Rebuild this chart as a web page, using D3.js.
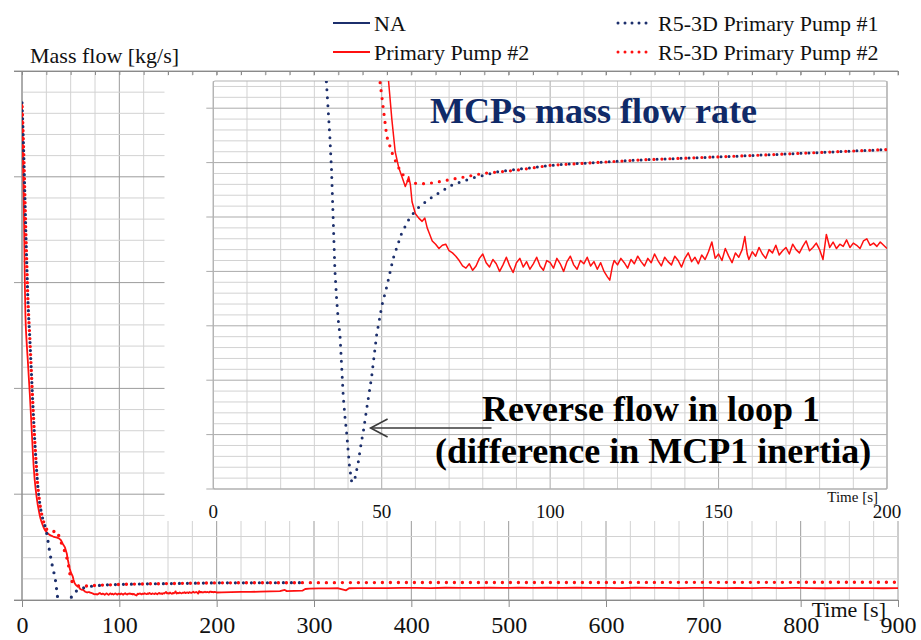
<!DOCTYPE html>
<html>
<head>
<meta charset="utf-8">
<script src="https://cdn.jsdelivr.net/npm/d3@7"></script>
<style>
  body { margin: 0; background: #fff; }
  svg { display: block; }
  text { font-family: "Liberation Serif", "Times New Roman", serif; }
</style>
</head>
<body>
<svg id="chart" width="921" height="640"></svg>
<script>
// ---- Data: mass flow [kg/s] against time [s] ----
const seriesNames = ["NA", "Primary Pump #2", "R5-3D Primary Pump #1", "R5-3D Primary Pump #2"];

// NA has no recorded points
const naFlow = [];

// Primary Pump #2 (measured)
const primaryPump2 = [
  [0,4695],[0.5,4450],[1,4200],[1.5,3930],[2,3650],[2.5,3300],[3,2950],[3.5,2700],[4,2560],[5,2400],
  [6,2260],[7,2100],[8,1950],[9,1780],[10,1600],[11,1420],[12,1260],[13,1140],[14,1050],[15,975],
  [16,910],[17,860],[18,810],[19,770],[20,740],[21,715],[22,690],[23,670],[24,655],[26,635],
  [28,618],[30,608],[32,600],[34,594],[36,590],[38,583],[40,565],[42,530],[44,500],[46,440],
  [47,385],[48,340],[49,300],[50,265],[51,245],[52,226],[53,190],[54,160],[55,146],[56,137],
  [57,128],[57.5,132],[58,137],[58.5,130],[59,114],[60,103],[61,99],[62,96],[62.8,99],[63.5,90],
  [64,86],[65,78],[66,75],[67,71],[68,74],[69,75],[70,69],[71,67],[72,64],[73,60],[74,55],
  [75,53],[76,57],[77,51],[78,55],[79,62],[80,66],[81,58],[82,54],[83,61],[84,57],[85,50],
  [86,56],[87,63],[88,55],[89,49],[90,58],[91,62],[92,54],[93,59],[94,52],[95,57],[96,63],
  [97,55],[98,51],[99,60],[100,58],[101,53],[102,62],[103,57],[104,50],[105,59],[106,64],[107,56],
  [108,52],[109,60],[110,57],[111,63],[112,55],[113,59],[114,52],[115,58],[116,50],[117,45],
  [117.7,42],[118.5,55],[119,60],[120,56],[121,62],[122,58],[123,53],[124,61],[125,57],[126,64],
  [127,59],[128,55],[129,62],[130,58],[131,66],[132,60],[133,55],[134,63],[135,59],[136,56],
  [137,64],[138,60],[139,54],[140,62],[141,67],[142,59],[143,63],[144,57],[145,65],[146,61],
  [147,68],[148,77],[149,62],[150,66],[151,60],[152,71],[153,64],[154,58],[155,67],[156,63],
  [157,70],[157.8,82],[158.5,66],[159,61],[160,68],[161,64],[162,72],[163,66],[164,62],[165,70],
  [166,67],[167,74],[168,65],[169,69],[170,72],[171,66],[172,75],[173,70],[174,67],[175,73],
  [176,78],[177,69],[178,72],[179,76],[180,70],[181,61],[182,84],[183,72],[184,77],[185,71],
  [186,75],[187,73],[188,79],[189,72],[190,76],[191,74],[192,71],[193,78],[194,80],[195,74],
  [196,76],[197,73],[198,77],[199,74],[200,71],
  [205,72],[215,74],[225,76],[235,77],[245,79],[255,81],[265,83],[270,95],[272,84],[280,86],
  [288,88],[291,104],[295,108],[305,109],[315,110],[325,111],[333,92],[336,111],[345,112],[360,113],
  [375,112],[390,114],[405,115],[420,113],[435,116],[450,114],[465,115],[480,117],[495,115],[510,116],
  [525,114],[540,117],[555,115],[570,116],[585,114],[600,115],[615,113],[630,116],[645,114],[660,115],
  [675,113],[690,115],[705,114],[720,112],[735,115],[750,113],[765,114],[780,112],[795,114],[810,113],
  [825,111],[840,113],[855,112],[870,113],[885,111],[900,112]
];

// R5-3D Primary Pump #1 (calculated)
const r5Pump1 = [
  [0,4700],[1,4450],[2,4150],[3,3800],[4,3450],[5,3150],[6,2850],[7,2650],[8,2480],[9,2280],
  [10,2080],[11,1880],[12,1700],[13,1520],[14,1370],[15,1230],[16,1100],[17,1010],[18,930],[19,870],
  [20,820],[21,780],[22,745],[23,715],[24,690],[25,650],[26,600],[27,540],[28,480],[29,430],
  [30,375],[31,330],[32,290],[33,250],[33.6,223],[34.6,174],[35.1,143],[35.6,97],[36.1,51],[36.6,25],
  [37.1,5],[37.6,-8],[38.1,-37],[38.6,-66],[39.1,-84],[39.6,-99],[40.4,-128],[41.1,-144],[42,-141],[43,-126],
  [44,-106],[44.5,-98],[45.5,-77],[47,-47],[48.5,-8],[49.5,9],[50,18],[51.5,36],[53.4,62],[55.9,85],
  [58.4,100],[61.3,110],[65.3,119],[71.2,130],[77.2,136],[85,142],[95,145.5],[102,148],[127,152.5],[156,156],
  [200,162],[250,163],[290,164]
];

// R5-3D Primary Pump #2 (calculated)
const r5Pump2 = [
  [0,4700],[1,4450],[2,4150],[3,3800],[4,3450],[5,3150],[6,2850],[7,2650],[8,2480],[9,2280],
  [10,2080],[11,1880],[12,1700],[13,1520],[14,1370],[15,1230],[16,1100],[17,1010],[18,930],[19,870],
  [20,820],[21,780],[22,745],[23,715],[24,690],[25,672],[27,655],[30,646],[33,648],[36,652],
  [37,630],[38,600],[40,550],[42,500],[44,460],[46,400],[48,320],[49,265],[49.5,224],[50.3,204],
  [51.5,174],[53.4,156],[55.4,143],[57.4,134],[59.4,131],[63.3,130.5],[67.3,132.6],[73.2,136],[80,140],[90,143],
  [100,147.5],[127,152.5],[156,156],[200,162],[250,163],[300,164],[400,165],[500,166],[600,166],[700,167],
  [800,167],[900,168]
];

// Axis tick values
const mainTimeTicks = [0, 100, 200, 300, 400, 500, 600, 700, 800, 900];
const insetTimeTicks = [0, 50, 100, 150, 200];

// Annotation anchor (time, flow) on the reverse-flow branch and the arrow tail
const reverseFlowTip = [46.7, -94];
const reverseFlowTail = [82.6, -94];

// ---- Colours ----
const navy = "#1c2f6c";
const red = "#ff1010";
const gridMinor = "#d2d2d2";
const gridMajor = "#9c9c9c";

const svg = d3.select("#chart");

// ================= Main chart (0-900 s) =================
const xMain = d3.scaleLinear().domain([0, 900]).range([22, 898]);
const yMain = d3.scaleLinear().domain([0, 5000]).range([600, 71]);

const main = svg.append("g");

// vertical grid every 25 s
main.selectAll("line.vg").data(d3.range(0, 901, 25)).join("line")
  .attr("x1", d => xMain(d)).attr("x2", d => xMain(d))
  .attr("y1", yMain(5000)).attr("y2", yMain(0))
  .attr("stroke", d => d % 100 === 0 ? gridMajor : gridMinor)
  .attr("stroke-width", 1);

// horizontal grid every 200 kg/s, majors every 1000 extend past the axis
main.selectAll("line.hg").data(d3.range(0, 5001, 200)).join("line")
  .attr("x1", d => d % 1000 === 0 ? 14 : xMain(0)).attr("x2", xMain(900))
  .attr("y1", d => yMain(d)).attr("y2", d => yMain(d))
  .attr("stroke", d => d % 1000 === 0 ? gridMajor : gridMinor)
  .attr("stroke-width", 1);

// left axis line
main.append("line")
  .attr("x1", xMain(0)).attr("x2", xMain(0))
  .attr("y1", yMain(5000)).attr("y2", yMain(0))
  .attr("stroke", "#8a8a8a");

// top border with small ticks
const topAxis = main.append("g").attr("transform", `translate(0,${yMain(5000)})`)
  .call(d3.axisBottom(xMain).tickValues(d3.range(0, 901, 25)).tickSize(4).tickSizeOuter(0).tickFormat(""));
topAxis.select(".domain").attr("d", `M14,0.5H${xMain(900)}`).attr("stroke", "#8a8a8a");
topAxis.selectAll(".tick line").attr("stroke", "#8a8a8a");

// bottom axis
const bottomAxis = main.append("g").attr("transform", `translate(0,${yMain(0)})`)
  .call(d3.axisBottom(xMain).tickValues(mainTimeTicks).tickSize(7).tickSizeOuter(0).tickFormat(d3.format("d")));
bottomAxis.select(".domain").attr("d", `M14,0.5H${xMain(900)}`).attr("stroke", "#8a8a8a");
bottomAxis.selectAll(".tick line").attr("stroke", "#8a8a8a");
bottomAxis.selectAll(".tick text")
  .attr("y", 33).attr("dy", null)
  .attr("font-family", "'Liberation Serif', serif").attr("font-size", 24).attr("fill", "#111");

main.append("text").attr("x", 886).attr("y", 617).attr("text-anchor", "end")
  .attr("font-size", 22).attr("fill", "#111").text("Time [s]");

// main series, clipped to plot area
svg.append("clipPath").attr("id", "clipMain").append("rect")
  .attr("x", xMain(0)).attr("y", yMain(5000))
  .attr("width", xMain(900) - xMain(0)).attr("height", yMain(0) - yMain(5000));

const lineMain = d3.line().x(d => xMain(d[0])).y(d => yMain(d[1]));
const mainSeries = main.append("g").attr("clip-path", "url(#clipMain)");
mainSeries.append("path").datum(naFlow).attr("d", lineMain)
  .attr("fill", "none").attr("stroke", navy).attr("stroke-width", 2);
mainSeries.append("path").datum(primaryPump2).attr("d", lineMain)
  .attr("fill", "none").attr("stroke", red).attr("stroke-width", 1.8).attr("stroke-linejoin", "round");
mainSeries.append("path").datum(r5Pump1).attr("d", lineMain)
  .attr("fill", "none").attr("stroke", navy).attr("stroke-width", 3.2)
  .attr("stroke-linecap", "round").attr("stroke-dasharray", "0 8");
mainSeries.append("path").datum(r5Pump2).attr("d", lineMain)
  .attr("fill", "none").attr("stroke", red).attr("stroke-width", 3.4)
  .attr("stroke-linecap", "round").attr("stroke-dasharray", "0 8").attr("stroke-dashoffset", -4);

// axis title
svg.append("text").attr("x", 30).attr("y", 63).attr("font-size", 22).attr("fill", "#111")
  .text("Mass flow [kg/s]");

// ================= Inset (0-200 s zoom) =================
svg.append("rect").attr("x", 164.5).attr("y", 75.5).attr("width", 921 - 164.5).attr("height", 521 - 75.5)
  .attr("fill", "#fff");

const xIn = d3.scaleLinear().domain([0, 200]).range([213.3, 887]);
const yIn = d3.scaleLinear().domain([-150, 225]).range([489, 81]);
const inset = svg.append("g");

inset.selectAll("line.ivg").data(d3.range(0, 201, 10)).join("line")
  .attr("x1", d => xIn(d)).attr("x2", d => xIn(d))
  .attr("y1", yIn(225)).attr("y2", yIn(-150))
  .attr("stroke", d => d % 50 === 0 ? "#ababab" : gridMinor);

inset.selectAll("line.ihg").data(d3.range(-150, 225, 10)).join("line")
  .attr("x1", d => d % 50 === 0 ? xIn(0) - 7 : xIn(0)).attr("x2", xIn(200))
  .attr("y1", d => yIn(d)).attr("y2", d => yIn(d))
  .attr("stroke", d => d % 50 === 0 ? "#ababab" : gridMinor);

inset.append("rect")
  .attr("x", xIn(0)).attr("y", yIn(225))
  .attr("width", xIn(200) - xIn(0)).attr("height", yIn(-150) - yIn(225))
  .attr("fill", "none").attr("stroke", "#b4b4b4").attr("stroke-width", 1.2).attr("rx", 2);

inset.selectAll("text.ixt").data(insetTimeTicks).join("text")
  .attr("x", d => xIn(d)).attr("y", 518).attr("text-anchor", "middle")
  .attr("font-size", 19).attr("fill", "#111").text(d => d);

inset.append("text").attr("x", 878).attr("y", 502).attr("text-anchor", "end")
  .attr("font-size", 15).attr("fill", "#111").text("Time [s]");

svg.append("clipPath").attr("id", "clipInset").append("rect")
  .attr("x", xIn(0)).attr("y", yIn(225))
  .attr("width", xIn(200) - xIn(0)).attr("height", yIn(-150) - yIn(225));

const lineIn = d3.line().x(d => xIn(d[0])).y(d => yIn(d[1]));
const insetSeries = inset.append("g").attr("clip-path", "url(#clipInset)");
const upTo200 = arr => arr.filter((d, i) => d[0] <= 200 || (i > 0 && arr[i - 1][0] < 200));
insetSeries.append("path").datum(naFlow).attr("d", lineIn)
  .attr("fill", "none").attr("stroke", navy).attr("stroke-width", 2);
insetSeries.append("path").datum(upTo200(primaryPump2)).attr("d", lineIn)
  .attr("fill", "none").attr("stroke", red).attr("stroke-width", 1.5).attr("stroke-linejoin", "round");
insetSeries.append("path").datum(upTo200(r5Pump1)).attr("d", lineIn)
  .attr("fill", "none").attr("stroke", navy).attr("stroke-width", 3)
  .attr("stroke-linecap", "round").attr("stroke-dasharray", "0 8");
insetSeries.append("path").datum(upTo200(r5Pump2)).attr("d", lineIn)
  .attr("fill", "none").attr("stroke", red).attr("stroke-width", 3.2)
  .attr("stroke-linecap", "round").attr("stroke-dasharray", "0 8").attr("stroke-dashoffset", -4);

// inset title
inset.append("text").attr("x", 430).attr("y", 123).attr("font-size", 36).attr("font-weight", "bold")
  .attr("fill", "#102a68").text("MCPs mass flow rate");

// reverse flow annotation
const tipX = xIn(reverseFlowTip[0]), tipY = yIn(reverseFlowTip[1]);
inset.append("line")
  .attr("x1", xIn(reverseFlowTail[0])).attr("y1", yIn(reverseFlowTail[1]))
  .attr("x2", tipX).attr("y2", tipY)
  .attr("stroke", "#3a3a3a").attr("stroke-width", 1.6);
inset.append("path")
  .attr("d", `M${tipX + 17},${tipY - 9}L${tipX},${tipY}L${tipX + 17},${tipY + 9}`)
  .attr("fill", "none").attr("stroke", "#3a3a3a").attr("stroke-width", 1.6);

inset.append("text").attr("x", 482).attr("y", 421).attr("font-size", 36).attr("font-weight", "bold")
  .attr("fill", "#000").text("Reverse flow in loop 1");
inset.append("text").attr("x", 435).attr("y", 463).attr("font-size", 36).attr("font-weight", "bold")
  .attr("fill", "#000").text("(difference in MCP1 inertia)");

// ================= Legend =================
const legendItems = [
  { name: seriesNames[0], color: navy, dotted: false, x: 333, y: 23 },
  { name: seriesNames[1], color: red, dotted: false, x: 333, y: 52 },
  { name: seriesNames[2], color: navy, dotted: true, x: 617, y: 23 },
  { name: seriesNames[3], color: red, dotted: true, x: 617, y: 52 }
];
const legend = svg.append("g");
legendItems.forEach(it => {
  const g = legend.append("g");
  if (it.dotted) {
    g.append("line").attr("x1", it.x + 1).attr("x2", it.x + 36).attr("y1", it.y).attr("y2", it.y)
      .attr("stroke", it.color).attr("stroke-width", 3).attr("stroke-linecap", "round")
      .attr("stroke-dasharray", "0 7");
  } else {
    g.append("line").attr("x1", it.x).attr("x2", it.x + 37).attr("y1", it.y).attr("y2", it.y)
      .attr("stroke", it.color).attr("stroke-width", 2);
  }
  g.append("text").attr("x", it.x + 41).attr("y", it.y + 8).attr("font-size", 22).attr("fill", "#111")
    .text(it.name);
});
</script>
</body>
</html>
